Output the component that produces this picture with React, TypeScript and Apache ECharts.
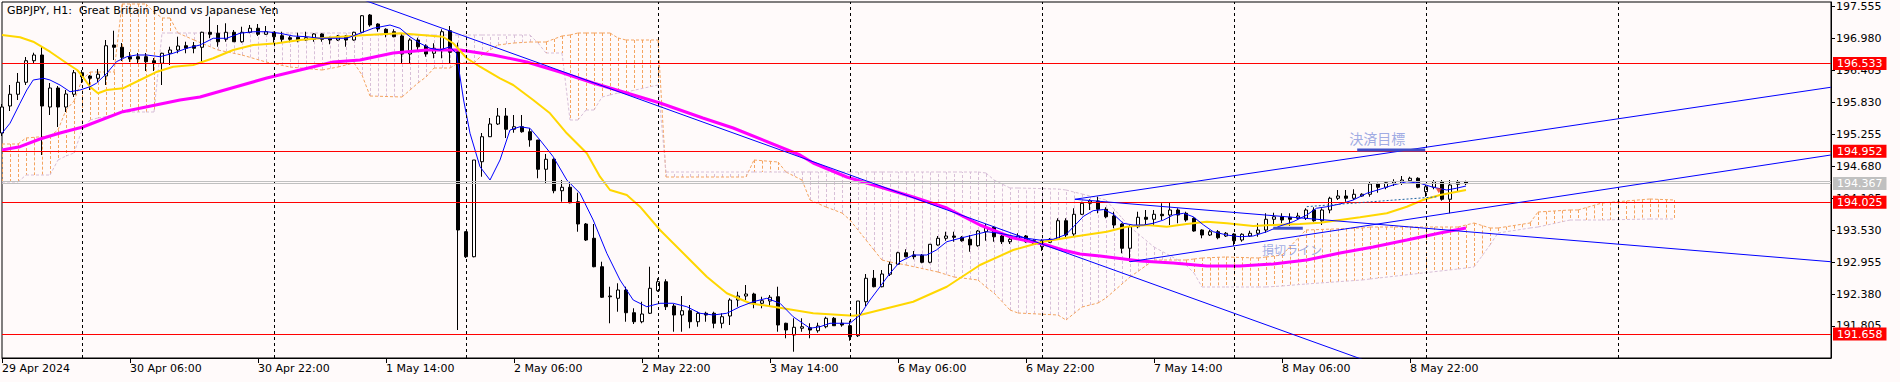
import React, { useEffect, useRef } from "react";
import * as echarts from "echarts";

// ---- Candles (H1 bars, index 0 = 29 Apr 14:00) ----
const opens = [195.278,195.764,195.975,196.191,196.579,196.682,195.746,196.088,195.746,195.975,196.363,196.304,196.263,196.304,196.862,196.821,196.651,196.651,196.651,196.579,196.533,196.713,196.772,196.849,196.849,196.821,197.091,197.073,196.965,197.091,196.921,197.091,197.163,197.055,197.091,197.029,196.993,197.001,196.952,196.965,197.06,196.993,196.952,197.024,196.952,197.091,197.402,197.24,197.145,197.101,197.024,196.7,196.952,196.844,196.713,196.785,197.119,196.741,193.501,193.051,194.761,195.211,195.44,195.584,195.345,195.391,195.301,195.152,194.625,194.805,194.239,194.301,194.041,193.64,193.383,192.871,192.331,192.303,192.452,192.043,191.881,192.033,192.439,192.601,192.164,192.002,192.079,191.881,192.033,192.033,191.853,191.984,192.272,192.344,192.38,192.213,192.254,192.331,191.853,191.642,191.763,191.773,191.719,191.791,191.943,191.853,191.809,191.629,192.241,192.663,192.511,192.735,192.915,193.123,193.082,193.077,192.951,193.262,193.383,193.424,193.401,193.365,193.249,193.501,193.581,193.424,193.321,193.365,193.424,193.339,193.231,193.311,193.365,193.699,193.46,193.815,194.013,194.054,193.905,193.784,193.64,193.203,193.591,193.761,193.725,193.815,193.802,193.892,193.833,193.743,193.532,193.442,193.501,193.424,193.46,193.352,193.424,193.473,193.532,193.725,193.771,193.761,193.743,193.743,193.892,193.699,193.892,194.103,194.144,194.103,194.144,194.175,194.36,194.301,194.373,194.373,194.419,194.463,194.221,194.301,194.401,194.085,194.355,194.401];
const closes = [195.746,195.975,196.191,196.579,196.682,195.764,196.088,195.746,195.98,196.363,196.291,196.263,196.335,196.849,196.821,196.641,196.61,196.61,196.561,196.533,196.713,196.772,196.844,196.803,196.803,197.091,197.055,196.921,197.091,196.921,197.091,197.163,197.055,197.101,197.011,196.965,196.965,196.939,196.993,197.06,196.965,196.952,197.024,196.952,197.091,197.389,197.222,197.15,197.073,197.011,196.7,196.952,196.831,196.7,196.803,197.101,196.731,193.532,193.051,194.792,195.211,195.44,195.584,195.345,195.391,195.301,195.152,194.625,194.805,194.239,194.301,194.023,193.64,193.352,192.871,192.321,192.344,192.452,192.043,191.881,192.02,192.483,192.601,192.151,192.002,192.079,191.881,192.033,192.002,191.853,191.971,192.272,192.344,192.38,192.2,192.259,192.321,191.822,191.732,191.781,191.791,191.732,191.804,191.943,191.809,191.822,191.611,192.254,192.663,192.511,192.74,192.915,193.123,193.051,193.051,192.951,193.275,193.383,193.424,193.401,193.339,193.262,193.514,193.581,193.411,193.321,193.365,193.424,193.321,193.275,193.339,193.365,193.699,193.442,193.815,194.013,194.054,193.905,193.771,193.622,193.203,193.591,193.761,193.725,193.815,193.789,193.892,193.802,193.712,193.514,193.442,193.501,193.393,193.473,193.339,193.455,193.473,193.532,193.725,193.771,193.712,193.725,193.784,193.892,193.699,193.892,194.103,194.144,194.103,194.175,194.175,194.36,194.301,194.383,194.401,194.432,194.463,194.301,194.311,194.401,194.085,194.342,194.391,194.367];
const lows = [195.224,195.674,195.872,196.142,196.52,194.882,195.602,195.386,195.656,195.926,196.178,196.052,196.196,196.142,196.592,196.574,196.556,196.538,196.394,196.394,196.142,196.502,196.713,196.713,196.713,196.533,196.983,196.831,196.921,196.921,196.903,197.073,197.024,197.042,196.893,196.911,196.911,196.911,196.934,196.921,196.921,196.875,196.934,196.831,196.939,197.073,197.191,197.101,197.001,197.001,196.533,196.533,196.772,196.651,196.623,196.623,196.533,191.732,193.028,193.04,194.491,195.206,195.422,195.188,195.283,195.283,195.031,194.463,194.373,194.193,194.041,194.013,193.501,193.334,192.861,192.308,191.853,192.061,191.881,191.84,191.853,192.02,192.421,192.092,191.701,191.701,191.763,191.791,191.881,191.763,191.763,191.822,192.151,192.272,192.123,192.123,192.164,191.701,191.583,191.341,191.701,191.583,191.683,191.763,191.804,191.791,191.539,191.606,192.164,192.5,192.5,192.704,192.902,193.04,193.005,192.933,192.933,193.249,193.339,193.321,193.321,193.141,193.231,193.339,193.321,193.28,193.28,193.352,193.303,193.262,193.154,193.298,193.352,193.401,193.411,193.802,193.892,193.833,193.743,193.563,193.113,192.961,193.563,193.64,193.604,193.712,193.622,193.653,193.681,193.501,193.383,193.424,193.365,193.406,193.249,193.321,193.411,193.411,193.483,193.64,193.653,193.604,193.712,193.712,193.681,193.622,193.833,194.072,194.041,194.072,194.131,194.131,194.203,194.265,194.324,194.342,194.401,194.283,194.131,194.265,194.059,193.833,194.221,194.342];
const highs = [195.8,196.142,196.358,196.646,196.723,196.831,196.178,196.124,196.052,196.412,196.412,196.322,196.43,196.952,197.119,196.898,196.736,196.718,196.718,196.628,196.723,196.831,197.011,196.921,196.916,197.101,197.371,197.222,197.253,197.132,197.191,197.222,197.24,197.204,197.101,197.101,197.024,197.083,197.101,197.073,197.073,197.011,197.042,197.042,197.101,197.402,197.42,197.253,197.163,197.145,197.073,196.983,196.993,196.875,196.893,197.145,197.204,196.903,193.51,194.792,195.278,195.548,195.728,195.728,195.602,195.602,195.363,195.152,194.9,194.823,194.432,194.401,194.203,193.658,193.64,192.961,192.511,192.573,192.511,192.123,192.241,192.871,192.663,192.645,192.2,192.344,192.182,192.061,192.061,192.061,192.033,192.303,192.421,192.542,192.403,192.331,192.362,192.511,191.863,191.943,191.943,191.853,191.863,191.971,191.966,191.925,191.899,192.254,192.74,192.812,192.812,192.961,193.141,193.185,193.154,193.1,193.28,193.424,193.501,193.501,193.424,193.442,193.532,193.64,193.604,193.473,193.401,193.473,193.442,193.365,193.365,193.388,193.743,193.743,193.923,194.041,194.085,194.131,193.941,193.861,193.653,193.622,193.861,193.892,193.892,194.013,194.023,193.923,193.861,193.761,193.545,193.532,193.532,193.496,193.473,193.473,193.519,193.653,193.833,193.843,193.833,193.833,193.843,193.923,193.941,193.923,194.131,194.252,194.252,194.265,194.193,194.401,194.383,194.401,194.445,194.504,194.491,194.481,194.342,194.432,194.432,194.432,194.432,194.419];

// ---- Moving averages: [bar, price] ----
const blueMA = [[0,195.273],[1,195.453],[2.25,195.813],[3.1,196.052],[3.9,196.232],[5.2,196.263],[6,196.232],[7.25,196.142],[8.5,196.021],[9.75,196.052],[11,196.111],[11.8,196.173],[13.1,196.353],[14.3,196.561],[15.6,196.651],[16.8,196.682],[18.1,196.682],[19.75,196.651],[21.4,196.713],[23.1,196.803],[24.75,196.862],[26.4,196.983],[28.1,196.983],[29.75,197.073],[31.4,197.101],[33.1,197.101],[34.75,197.073],[36.4,197.024],[38.1,197.011],[39.75,196.983],[43.1,196.983],[44.75,197.073],[46.4,197.163],[48.5,197.222],[49.75,197.163],[51,197.011],[52.25,196.893],[53.5,196.803],[54.75,196.772],[56,196.831],[56.8,196.713],[57.7,195.872],[58.5,195.273],[59.75,194.671],[61,194.432],[62.25,194.792],[63.5,195.332],[64.75,195.391],[66,195.363],[67.25,195.152],[68.9,194.851],[70.6,194.432],[72.25,194.193],[73.9,193.712],[75.6,193.113],[77.25,192.632],[78.9,192.272],[80.6,192.151],[82.25,192.213],[83.9,192.213],[85.6,192.151],[87.25,192.033],[88.9,192.002],[90.6,192.033],[92.25,192.151],[93.9,192.241],[95.6,192.303],[97.25,192.213],[98.9,191.971],[101,191.763],[102.25,191.791],[103.5,191.853],[106,191.853],[107.25,192.002],[108.5,192.272],[109.75,192.511],[111,192.753],[112.25,192.961],[113.9,193.082],[115.6,193.082],[116.8,193.172],[118.1,193.321],[119.75,193.383],[121.4,193.442],[123.1,193.501],[124.75,193.473],[126.4,193.424],[128.1,193.383],[129.75,193.35],[131.4,193.365],[133,193.45],[134,193.6],[135.2,193.78],[136.4,193.88],[137.7,193.9],[138.9,193.82],[140.15,193.653],[141.4,193.622],[142.7,193.622],[143.9,193.653],[145.2,193.712],[146.4,193.802],[147.7,193.833],[148.9,193.771],[150.2,193.622],[151.4,193.501],[153.1,193.442],[154.75,193.411],[156.4,193.424],[158.1,193.501],[159.75,193.604],[161.4,193.681],[163.1,193.802],[164.3,193.923],[165.6,193.951],[167.25,194.0],[168.9,194.072],[170.6,194.193],[172.25,194.265],[173.9,194.342],[175.6,194.401],[177.25,194.373],[178.9,194.301],[180.6,194.252],[181.8,194.283],[183,194.324]];
const goldMA = [[0,197.042],[2.25,197.001],[3.9,196.921],[6,196.741],[8.1,196.533],[9.4,196.412],[10.1,196.291],[11,196.111],[12,195.993],[13.1,196.052],[15.1,196.083],[17.25,196.232],[19.4,196.381],[21.4,196.471],[23.9,196.502],[26.4,196.623],[28.9,196.772],[31.4,196.862],[34.4,196.893],[37.25,196.952],[39.75,196.983],[45.6,197.042],[49.75,197.073],[55.1,197.011],[56.4,196.893],[58.1,196.623],[59.75,196.471],[62.25,196.263],[63.9,196.142],[66.4,195.872],[68.5,195.633],[70.6,195.273],[73.1,194.913],[74.75,194.491],[76,194.252],[78.1,194.162],[79.75,193.951],[82.25,193.532],[85.6,193.051],[88.1,192.691],[90.6,192.393],[93.5,192.213],[97.6,192.123],[101.4,192.033],[106.4,191.99],[107.25,192.002],[109.75,192.092],[113.9,192.241],[118.1,192.511],[122.25,192.902],[126.4,193.172],[130.1,193.321],[133.9,193.411],[138.1,193.501],[140.6,193.591],[143.1,193.622],[145.6,193.591],[148.1,193.64],[150.6,193.681],[153.1,193.653],[156.4,193.604],[158.9,193.622],[162.25,193.64],[164.75,193.663],[167.25,193.712],[169.75,193.76],[173.1,193.833],[175.6,193.951],[177.6,194.072],[179.75,194.162],[183,194.252]];
const magentaMA = [[0,194.972],[2.25,195.031],[4.75,195.17],[7.25,195.278],[10.1,195.386],[15.1,195.661],[22.25,195.872],[24.75,195.926],[33.1,196.268],[41.4,196.556],[44.75,196.592],[48.9,196.718],[53.1,196.772],[57.25,196.772],[61.4,196.682],[65.6,196.556],[69.75,196.376],[73.9,196.178],[78.1,195.998],[82.25,195.818],[87.6,195.548],[91.4,195.368],[99.75,194.882],[101.4,194.738],[105.6,194.486],[109.75,194.306],[113.9,194.126],[118.1,193.928],[122.25,193.622],[126.4,193.388],[130.6,193.262],[132.6,193.172],[134.75,193.1],[137.25,193.064],[142.25,192.974],[146.4,192.938],[150.6,192.884],[154.75,192.884],[158.9,192.92],[163.1,192.992],[167.25,193.118],[171.4,193.226],[175.6,193.352],[179.75,193.478],[183,193.568]];

// ---- Ichimoku cloud (Senkou span A / B) read at sample bars ----
const cloudBars = [0,2,3,6,7,8,9,10,11,12,14,15,18,19,20,21,22,24,27,30,33,36,40,42,44,45,46,50,51,52,53,54,56,57,59,60,62,64,66,67,68,70,71,72,73,74,75,76,77,78,82,83,93,94,97,98,100,101,103,105,106,108,109,110,111,113,117,119,122,123,124,126,127,132,133,135,137,138,141,144,147,148,149,150,153,157,158,160,163,170,171,182,184,186,187,191,192,196,197,200,206,209];
const spanA = [195.08,195.08,195.188,195.224,195.332,195.692,195.854,196.232,196.376,196.376,196.376,197.6,197.6,197.456,197.348,197.348,197.078,196.952,196.772,196.682,196.556,196.466,196.412,196.466,196.538,196.322,195.944,195.926,196.052,196.178,196.286,196.448,196.448,196.538,196.538,196.682,196.862,196.898,196.916,196.916,196.916,197.024,197.042,197.078,197.078,197.078,197.078,197.078,196.988,196.952,196.952,194.486,194.486,194.792,194.756,194.576,194.432,194.072,193.946,193.838,193.712,193.352,193.172,192.992,192.956,192.902,192.776,192.686,192.632,192.506,192.398,192.092,192.038,192.002,191.912,192.146,192.218,192.308,192.686,192.992,192.992,192.992,193.01,193.028,193.046,193.028,193.046,193.082,193.532,193.568,193.586,193.586,193.658,193.568,193.568,193.658,193.856,193.892,193.892,194.018,194.09,194.072];
const spanB = [194.396,194.396,194.522,194.522,194.792,194.864,194.918,195.332,195.512,195.548,195.602,195.656,195.656,195.656,197.078,197.078,197.078,197.078,197.078,197.078,197.078,197.078,197.078,197.078,197.078,197.042,197.042,197.042,197.042,197.042,197.042,197.042,197.042,197.042,197.042,197.042,197.042,197.042,197.042,196.898,196.718,196.718,195.512,195.512,195.692,195.692,195.926,195.962,195.998,196.016,196.142,194.576,194.576,194.576,194.576,194.576,194.576,194.576,194.576,194.576,194.576,194.576,194.576,194.576,194.576,194.576,194.576,194.576,194.576,194.558,194.432,194.288,194.288,194.27,194.252,194.18,194.108,194.072,193.586,193.226,192.992,192.902,192.758,192.506,192.506,192.506,192.506,192.524,192.56,192.632,192.65,192.83,192.866,193.262,193.478,193.568,193.586,193.712,193.712,193.712,193.73,193.73];

// ---- Drawn objects ----
const redLevels = [196.533, 194.952, 194.025, 191.658];
const bidPrice = 194.367;
const askPrice = 194.405;
const trendLines = [
  [[40, 197.943], [185, 190.427]],
  [[134.1, 194.085], [228.6, 192.961]],
  [[134.1, 194.085], [228.6, 196.101]],
  [[141, 192.961], [228.6, 194.882]],
];
const targetMark = [[169.4, 194.97], [177.9, 194.97]];
const stopMark = [[158.9, 193.563], [162.6, 193.563]];
const orderLine = [[163.1, 193.952], [179.4, 194.13]];
const orderArrow = [[179.6, 194.24]];
const noteTexts = [
  { bar: 171.9, price: 195.197, text: "決済目標", size: 14 },
  { bar: 161.25, price: 193.177, text: "損切ライン", size: 12 },
];

// ---- Axes ----
const yTicks = [191.805, 192.38, 192.955, 193.53, 194.105, 194.68, 195.255, 195.83, 196.405, 196.98, 197.555];
const xTickBars = [0, 16, 32, 48, 64, 80, 96, 112, 128, 144, 160, 176];
const xTickLabels = ["29 Apr 2024", "30 Apr 06:00", "30 Apr 22:00", "1 May 14:00", "2 May 06:00", "2 May 22:00", "3 May 14:00", "6 May 06:00", "6 May 22:00", "7 May 14:00", "8 May 06:00", "8 May 22:00"];
const separatorBars = [10, 34, 58, 82, 106, 130, 154, 178, 202];

const FONT = "DejaVu Sans";
const ORANGE = "#F4A460";
const THISTLE = "#D8BFD8";

export default function App() {
  const ref = useRef<HTMLDivElement>(null);
  useEffect(() => {
    if (!ref.current) return;
    const chart = echarts.init(ref.current, null, { renderer: "svg" });
    const candleData = opens.map((o, i) => [i, o, closes[i], lows[i], highs[i]]);
    const cloudData = cloudBars.map((b, k) => [b, spanA[k], spanB[k]]);

    const levelLabel = (bg: string) => ({
      show: true,
      position: "end",
      distance: 2,
      color: "#fff",
      backgroundColor: bg,
      padding: [1, 4, 1, 4],
      fontSize: 11,
      fontFamily: FONT,
    });

    const option: any = {
      animation: false,
      backgroundColor: "#FFFAFA",
      title: {
        text: "GBPJPY, H1:  Great Britain Pound vs Japanese Yen",
        left: 7,
        top: 5,
        padding: 0,
        textStyle: { fontSize: 11, fontWeight: "normal", color: "#000", fontFamily: FONT },
      },
      grid: {
        left: 2, right: 69, top: 2, bottom: 24,
        show: true, borderColor: "#000", borderWidth: 1, backgroundColor: "#FFFAFA",
        containLabel: false, outerBoundsMode: "none",
      },
      xAxis: {
        type: "value", min: 0, max: 228.625,
        axisLine: { show: true, onZero: false, lineStyle: { color: "#000", width: 1 } },
        axisTick: { show: true, customValues: xTickBars, length: 5, lineStyle: { color: "#000" } },
        axisLabel: {
          customValues: xTickBars,
          formatter: (v: number) => xTickLabels[xTickBars.indexOf(Math.round(v))] ?? "",
          align: "left", margin: 5, color: "#000", fontSize: 11, fontFamily: FONT,
          showMinLabel: true, showMaxLabel: true,
        },
        splitLine: { show: false },
      },
      yAxis: {
        type: "value", position: "right", min: 191.228, max: 197.636, scale: true,
        axisLine: { show: true, onZero: false, lineStyle: { color: "#000", width: 1 } },
        axisTick: { show: true, customValues: yTicks, length: 4, lineStyle: { color: "#000" } },
        axisLabel: {
          customValues: yTicks,
          formatter: (v: number) => v.toFixed(3),
          margin: 5, color: "#000", fontSize: 11, fontFamily: FONT,
        },
        splitLine: { show: false },
      },
      series: [
        {
          type: "custom",
          name: "cloud",
          z: 1,
          silent: true,
          clip: true,
          encode: { x: 0, y: [1, 2] },
          data: cloudData,
          renderItem: (params: any, api: any) => {
            const k = params.dataIndex;
            if (k >= cloudBars.length - 1) return { type: "group", children: [] };
            const b0 = cloudBars[k], b1 = cloudBars[k + 1];
            const a0 = api.coord([b0, spanA[k]]), a1 = api.coord([b1, spanA[k + 1]]);
            const s0 = api.coord([b0, spanB[k]]), s1 = api.coord([b1, spanB[k + 1]]);
            const children: any[] = [];
            const last = k === cloudBars.length - 2;
            for (let j = Math.ceil(b0); j < b1 || (last && j <= b1); j++) {
              const t = (j - b0) / (b1 - b0);
              const x = Math.round(a0[0] + (a1[0] - a0[0]) * t) + 0.5;
              const ya = a0[1] + (a1[1] - a0[1]) * t;
              const yb = s0[1] + (s1[1] - s0[1]) * t;
              children.push({
                type: "line",
                shape: { x1: x, y1: ya, x2: x, y2: yb },
                style: { stroke: ya <= yb ? ORANGE : THISTLE, lineWidth: 1, lineDash: [3, 2] },
              });
            }
            children.push({
              type: "line",
              shape: { x1: a0[0], y1: a0[1], x2: a1[0], y2: a1[1] },
              style: { stroke: ORANGE, lineWidth: 1, lineDash: [3, 2] },
            });
            children.push({
              type: "line",
              shape: { x1: s0[0], y1: s0[1], x2: s1[0], y2: s1[1] },
              style: { stroke: THISTLE, lineWidth: 1, lineDash: [3, 2] },
            });
            return { type: "group", children };
          },
        },
        {
          type: "line",
          name: "levels",
          z: 2,
          data: [],
          silent: true,
          markLine: {
            silent: true,
            symbol: ["none", "none"],
            animation: false,
            data: [
              ...separatorBars.map((b) => ({
                xAxis: b,
                lineStyle: { color: "#000", width: 1, type: [3, 3] },
                label: { show: false },
              })),
              { yAxis: askPrice, lineStyle: { color: "#C0C0C0", width: 1, type: "solid" }, label: { show: false } },
              {
                yAxis: bidPrice,
                lineStyle: { color: "#C0C0C0", width: 1, type: "solid" },
                label: { ...levelLabel("#C0C0C0"), formatter: bidPrice.toFixed(3) },
              },
              ...redLevels.map((v) => ({
                yAxis: v,
                lineStyle: { color: "#FF0000", width: 1, type: "solid" },
                label: { ...levelLabel("#FF0000"), formatter: v.toFixed(3) },
              })),
            ],
          },
        },
        {
          type: "candlestick",
          name: "GBPJPY",
          z: 3,
          barWidth: 4,
          encode: { x: 0, y: [1, 2, 3, 4] },
          data: candleData,
          itemStyle: { color: "#FFFFFF", color0: "#000000", borderColor: "#000000", borderColor0: "#000000", borderWidth: 1 },
        },
        {
          type: "line", name: "MA long", z: 4, data: magentaMA, symbol: "none", showSymbol: false, silent: true,
          lineStyle: { color: "#FF00FF", width: 3 },
        },
        {
          type: "line", name: "MA mid", z: 4, data: goldMA, symbol: "none", showSymbol: false, silent: true,
          lineStyle: { color: "#FFD700", width: 2 },
        },
        {
          type: "line", name: "MA short", z: 4, data: blueMA, symbol: "none", showSymbol: false, silent: true,
          lineStyle: { color: "#0000FF", width: 1 },
        },
        ...trendLines.map((tl, n) => ({
          type: "line", name: "trend" + n, z: 5, data: tl, symbol: "none", showSymbol: false, silent: true,
          lineStyle: { color: "#0000FF", width: 1 },
        })),
        {
          type: "line", name: "order", z: 5, data: orderLine, symbol: "none", showSymbol: false, silent: true,
          lineStyle: { color: "#1A5F9E", width: 1, type: [2, 2] },
        },
        {
          type: "scatter", name: "arrow", z: 6, data: orderArrow, symbol: "triangle", symbolRotate: 180,
          symbolSize: [6, 5], itemStyle: { color: "#E8341C" }, silent: true,
        },
        {
          type: "line", name: "target", z: 6, data: targetMark, symbol: "none", showSymbol: false, silent: true,
          lineStyle: { color: "#3F4FC8", width: 3 },
        },
        {
          type: "line", name: "stop", z: 6, data: stopMark, symbol: "none", showSymbol: false, silent: true,
          lineStyle: { color: "#3F4FC8", width: 3 },
        },
        {
          type: "scatter", name: "notes", z: 7, silent: true, symbol: "rect", symbolSize: 2,
          itemStyle: { color: "rgba(0,0,0,0)" },
          label: { show: true, position: "inside", color: "#8796DD", fontFamily: "Noto Sans CJK JP" },
          data: noteTexts.map((t) => ({
            value: [t.bar, t.price],
            label: {
              show: true, position: "inside", formatter: t.text, color: "#8796DD",
              fontSize: t.size, fontFamily: "Noto Sans CJK JP",
            },
          })),
        },
      ],
    };
    chart.setOption(option);
    return () => chart.dispose();
  }, []);
  return (
    <div
      ref={ref}
      style={{ position: "absolute", left: 0, top: 0, width: 1900, height: 382, background: "#FFFAFA" }}
    />
  );
}
